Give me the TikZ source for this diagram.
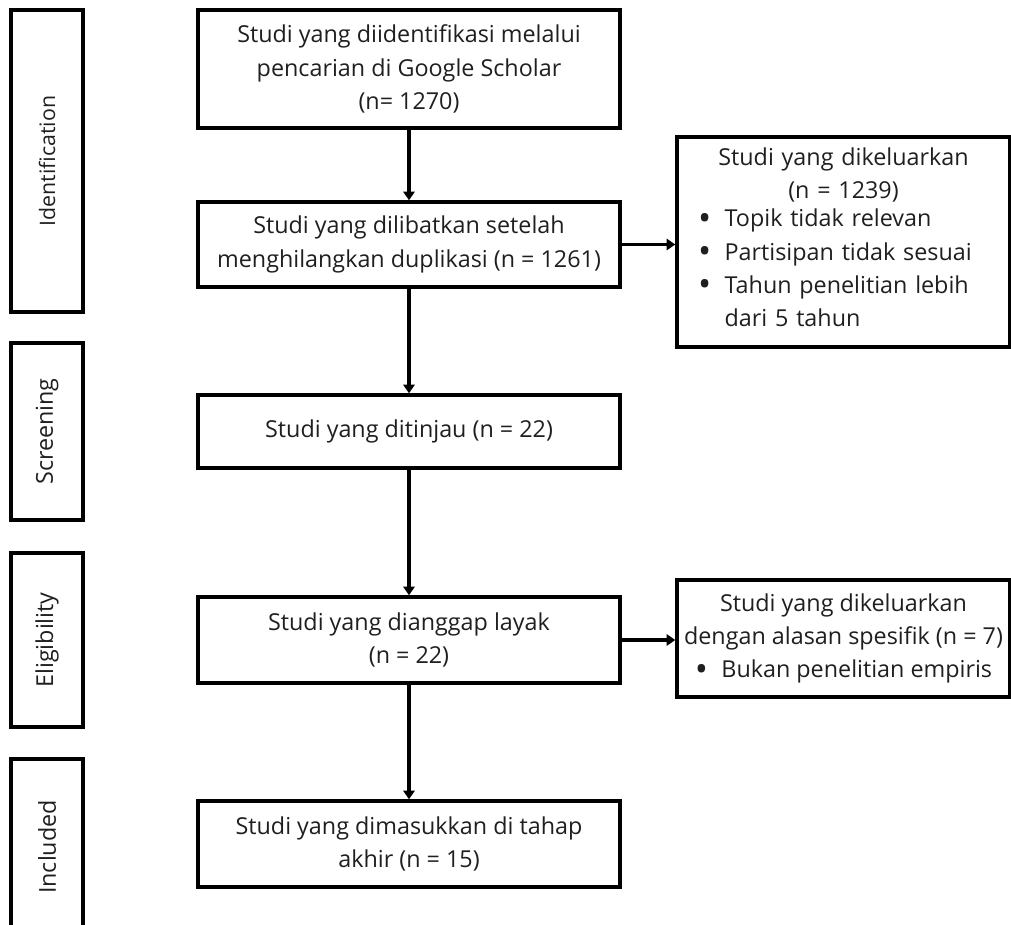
\documentclass[tikz,border=0pt]{standalone}
\usepackage{fontspec}
\setmainfont{Open Sans}
\usepackage{xcolor}
\colorlet{colText}{black!88}
\usetikzlibrary{arrows.meta, positioning}
\newcommand{\bigdot}{\raisebox{-2.5pt}{\scalebox{1.5}{\textbullet}}}
\tikzset{
	stagebox/.style={draw, line width=2.6pt, inner sep=0pt, minimum width=316.5pt, align=center, text=colText},
	phasebox/.style={draw, rotate=90, line width=2.6pt, inner sep=0pt, minimum height=54pt, text=colText},
	exclbox/.style={draw, line width=2.6pt, inner sep=0pt, minimum width=249.75pt, text=colText},
	flowarr/.style={-{Triangle[length=6.5pt, width=8.5pt]}, line width=2.3pt},
}

\begin{document}
\begin{tikzpicture}[x=0.75pt, y=-0.75pt, font=\fontsize{17.5}{25}\selectfont]
	\useasboundingbox (0,0) rectangle (1011,925);

	% PRISMA phases down the left side
	\foreach \nm/\cy/\len/\fs/\lbl in {%
		ident/161/226.5/16/Identification,
		scr/431.5/132.75/17.5/Screening,
		elig/640/130.5/17.5/Eligibility,
		incl/847/132/17.5/Included}
	{
		\node[phasebox, minimum width=\len pt, font=\fontsize{\fs}{20}\selectfont] (\nm) at (47,\cy) {\lbl};
	}

	% main flow
	\node[stagebox, minimum height=88.5pt] (found) at (409,69)
		{Studi yang diidentifikasi melalui\\pencarian di Google Scholar\\(n= 1270)};
	\node[stagebox, minimum height=63.75pt] (dedup) at (409,244.5)
		{Studi yang dilibatkan setelah\\menghilangkan duplikasi (n = 1261)};
	\node[stagebox, minimum height=54.75pt] (screened) at (409,431.5)
		{Studi yang ditinjau (n = 22)};
	\node[stagebox, minimum height=64.5pt] (eligible) at (409,640)
		{Studi yang dianggap layak\\(n = 22)};
	\node[stagebox, minimum height=64.5pt] (included) at (409,844)
		{Studi yang dimasukkan di tahap\\akhir (n = 15)};

	% exclusions
	\node[exclbox, minimum height=157.5pt, text width=218pt, align=left] (excl1) at (843.5,242)
		{{\centering Studi yang dikeluarkan\\(n = 1239)\par}%
		\begin{tabular}{@{}l@{\hspace{10pt}}l@{}}
			\bigdot & Topik tidak relevan\\
			\bigdot & Partisipan tidak sesuai\\
			\bigdot & Tahun penelitian lebih\\
			        & dari 5 tahun
		\end{tabular}};
	\node[exclbox, minimum height=87.75pt, align=center] (excl2) at (843.5,638.5)
		{Studi yang dikeluarkan\\dengan alasan spesifik (n = 7)\\\bigdot\hspace{10pt}Bukan penelitian empiris};

	\draw[flowarr] (found) -- (dedup);
	\draw[flowarr] (dedup) -- (screened);
	\draw[flowarr] (screened) -- (eligible);
	\draw[flowarr] (eligible) -- (included);
	\draw[flowarr] (dedup.east) -- (dedup.east -| excl1.west);
	\draw[flowarr] (eligible.east) -- (eligible.east -| excl2.west);
\end{tikzpicture}
\end{document}
